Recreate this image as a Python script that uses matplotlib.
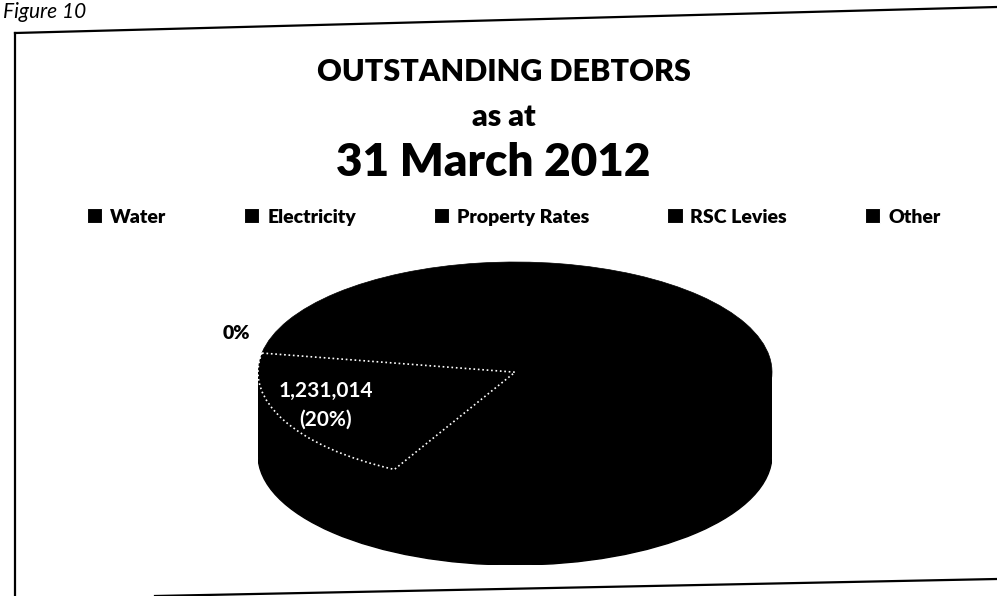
import numpy as np
import matplotlib.pyplot as plt
from matplotlib.patches import Ellipse, Rectangle
from matplotlib.lines import Line2D

# debtor categories and amounts (estimated)
categories = ["Water", "Electricity", "Property Rates", "RSC Levies", "Other"]
amounts = [1231014, 0, 4924000, 0, 0]
slice_labels = ["1,231,014", "0%", "", "", ""]

plt.rcParams['font.family'] = ['Lato', 'DejaVu Sans']

fig = plt.figure(figsize=(9.97, 5.96), dpi=100)
W, H = 997, 596

# scanned page frame (slightly skewed)
fig.add_artist(Line2D([15 / W, 15 / W], [0, 1 - 33 / H], color='black', lw=1.6))
fig.add_artist(Line2D([15 / W, 1], [1 - 33 / H, 1 - 7 / H], color='black', lw=1.6))
fig.add_artist(Line2D([155 / W, 1], [1 - 596 / H, 1 - 579 / H], color='black', lw=1.6))

fig.text(3 / W, 1 - 12 / H, "Figure 10", fontsize=15, style='italic', va='center', ha='left')

fig.text(0.505, 1 - 72 / H, "OUTSTANDING DEBTORS", fontsize=22, fontweight='heavy', ha='center', va='center')
fig.text(0.505, 1 - 117 / H, "as at", fontsize=22, fontweight='heavy', ha='center', va='center')
fig.text(0.495, 1 - 163 / H, "31 March 2012", fontsize=33, fontweight='heavy', ha='center', va='center')

# pie, squashed into an ellipse with a "3D" side
depth = 0.75
ax = fig.add_axes([258 / W, 1 - 565 / H, 514 / W, 303 / H])
ax.add_patch(Rectangle((-1, -depth), 2, depth, color='black', zorder=0))
ax.add_patch(Ellipse((0, -depth), 2, 2, color='black', zorder=0))

wedges, _ = ax.pie(amounts, colors=['black'] * 5, startangle=242, counterclock=False,
                   wedgeprops=dict(edgecolor='black', linewidth=0.5))
wedges[0].set_edgecolor('white')
wedges[0].set_linestyle(':')
wedges[0].set_linewidth(1.2)
wedges[0].set_zorder(3)

ax.set_aspect('auto')
ax.set_xlim(-1, 1)
ax.set_ylim(-1 - depth, 1)
ax.axis('off')

total = sum(amounts)
for w, lab, v in zip(wedges, slice_labels, amounts):
    if not lab:
        continue
    ang = np.deg2rad((w.theta1 + w.theta2) / 2)
    if v > 0:
        pct = 100 * v / total
        ax.text(0.82 * np.cos(ang), 0.8 * np.sin(ang) + 0.05, f"{lab}\n({pct:.0f}%)", color='white',
                fontsize=15, fontweight='bold', ha='center', va='center', zorder=5,
                linespacing=1.5)
    else:
        ax.text(1.1 * np.cos(ang), 1.15 * np.sin(ang) + 0.15, lab, color='black',
                fontsize=14, fontweight='heavy', ha='center', va='center', clip_on=False)

handles = [Rectangle((0, 0), 1, 1, facecolor='black', edgecolor='white', linewidth=0.8)
           for _ in categories]
fig.legend(handles, categories, loc='center', bbox_to_anchor=(0.515, 1 - 217 / H), ncol=5,
           frameon=False, handlelength=0.8, handleheight=0.8, handletextpad=0.4,
           columnspacing=4.0, prop=dict(weight='heavy', size=14))

fig.savefig("out.png", dpi=100)
